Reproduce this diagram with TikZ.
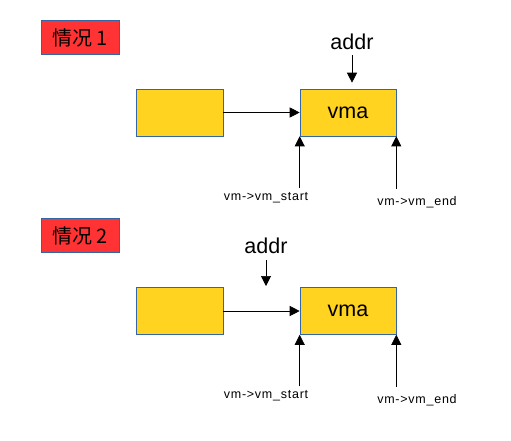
\documentclass[tikz,border=0pt]{standalone}
\usepackage{fontspec}
\setmainfont{Liberation Sans}
\newfontfamily\cjk{Noto Sans CJK SC}
\newfontfamily\lblfont[LetterSpace=6]{Liberation Sans}
\usetikzlibrary{arrows.meta}
\definecolor{amarillo}{HTML}{FFD320}
\definecolor{rojo}{HTML}{FF3333}
\definecolor{borde}{HTML}{3465A4}
\begin{document}
\begin{tikzpicture}[x=1pt, y=-1pt, line width=0.7pt,
  arr/.style={-{Triangle[length=10pt,width=10pt]}},
  caja/.style={draw=borde, fill=amarillo, line width=0.6pt, inner sep=0pt, minimum height=47pt},
  caso/.style={draw=borde, fill=rojo, line width=0.6pt, inner sep=0pt, minimum width=78pt, minimum height=34pt, font=\cjk\fontsize{20}{20}\selectfont},
  grande/.style={inner sep=0pt, font=\fontsize{21.5}{21.5}\selectfont},
  chico/.style={inner sep=0pt, font=\lblfont\fontsize{12.5}{12.5}\selectfont}]
\useasboundingbox (0,0) rectangle (511,440);
% Nodos
% ---
% caso 1
% ---
\node [caso] (caso1) at (80,37.5) {情况 1};
\node [caja, minimum width=87pt] (prev1) at (179.5,112.5) {};
\node [caja, minimum width=96pt, grande] (vma1) at (348,112.5) {vma};
\node [grande] (addr1) at (352,42) {addr};
\node [chico] (start1) at (266,198) {vm->vm\_start};
\node [chico] (end1) at (417,202) {vm->vm\_end};
% ---
% caso 2
% ---
\node [caso] (caso2) at (80,235.5) {情况 2};
\node [caja, minimum width=87pt] (prev2) at (179.5,311) {};
\node [caja, minimum width=96pt, grande] (vma2) at (348,311) {vma};
\node [grande] (addr2) at (266,246) {addr};
\coordinate (hueco2) at (266,286);
\node [chico] (start2) at (266,396) {vm->vm\_start};
\node [chico] (end2) at (417,400) {vm->vm\_end};
% Flechas
\draw [arr, shorten <=5pt, shorten >=6pt] (addr1) -- (vma1.north -| addr1);
\draw [arr] (prev1) -- (vma1);
\draw [arr, shorten <=4pt] (vma1.south west |- start1.north) -- (vma1.south west);
\draw [arr, shorten <=7pt] (vma1.south east |- end1.north) -- (vma1.south east);

\draw [arr, shorten <=6pt] (addr2) -- (hueco2);
\draw [arr] (prev2) -- (vma2);
\draw [arr, shorten <=4pt] (vma2.south west |- start2.north) -- (vma2.south west);
\draw [arr, shorten <=7pt] (vma2.south east |- end2.north) -- (vma2.south east);
\end{tikzpicture}
\end{document}
